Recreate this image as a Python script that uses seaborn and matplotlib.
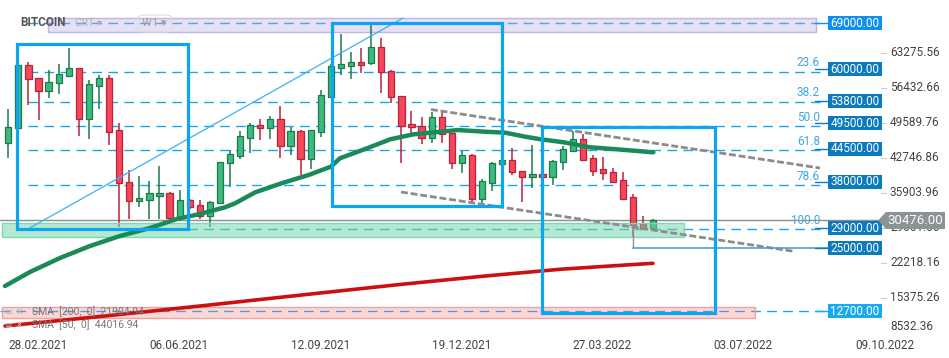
import numpy as np
import matplotlib
matplotlib.use("Agg")
import matplotlib.pyplot as plt
import matplotlib.patches as mpatches
import matplotlib.transforms as mtransforms
import seaborn as sns

# weekly candles, first candle = week of 28.02.2021
OPEN = [45680, 48500, 60870, 58270, 55850, 57290, 58780, 60230, 50260, 56820,
        58270, 48160, 37940, 34340, 34540, 35320, 35850, 30960, 34480, 33500,
        31410, 33830, 41650, 43140, 46660, 49080, 48610, 50260, 45090, 47970,
        42430, 47830, 54670, 60340, 60730, 61400, 61200, 64330, 59700, 54810,
        49340, 48950, 46540, 50650, 47520, 41650, 43220, 34610, 37860, 41460,
        42240, 40090, 38920, 39500, 38920, 41850, 44120, 46340, 42630, 40540,
        39950, 38390, 35010, 29730, 29060]
HIGH = [52270, 61070, 61400, 58330, 59890, 61070, 64140, 60280, 57940, 58920,
        58920, 49470, 40340, 39170, 38190, 41120, 36000, 36430, 34670, 34480,
        34280, 41910, 44250, 47970, 49590, 50260, 50900, 52860, 48810, 48160,
        48160, 55980, 61070, 66930, 63470, 64140, 69000, 66090, 59890, 54810,
        51880, 50760, 51740, 51940, 47580, 44120, 43410, 38640, 41970, 42400,
        44590, 40090, 45230, 39560, 42300, 45040, 48030, 47380, 43280, 42830,
        40680, 39890, 35650, 31350, 30760]
LOW = [42750, 48360, 53050, 50120, 54480, 55260, 58600, 46990, 46460, 52270,
       45230, 29260, 30760, 33170, 30760, 30760, 30430, 30430, 32720, 30820,
       29260, 33700, 37080, 42490, 43730, 46210, 46400, 42750, 43280, 39370,
       40540, 46850, 54420, 58920, 58080, 59370, 60800, 55460, 53500, 41770,
       47320, 45370, 45560, 45680, 40480, 39700, 34090, 33830, 36300, 41320,
       39370, 34090, 36880, 38780, 37410, 40340, 44000, 42100, 39170, 38390,
       37740, 34600, 27050, 28610, 29000]
CLOSE = [48690, 60870, 58080, 55850, 57490, 59110, 60230, 50260, 57160, 58270,
         47830, 37740, 34340, 34870, 35850, 35850, 30960, 34480, 33170, 31410,
         34030, 41850, 43410, 46930, 49080, 48610, 50260, 45090, 47970, 42430,
         48160, 55010, 60680, 61010, 61400, 60930, 64330, 59440, 54560, 49000,
         48690, 46540, 50650, 47320, 41650, 43220, 34730, 38130, 41650, 42240,
         39890, 38920, 39500, 38920, 42100, 44390, 46340, 42300, 40210, 39700,
         38060, 34730, 29590, 29060, 30476]

# moving averages (week index, price)
SMA50_WEEK = [-0.33, 2.15, 5.13, 8.1, 11.08, 14.06, 16.7, 19.0, 21.5, 22.5, 24.5,
              27.1, 29.8, 32.0, 32.9, 35.6, 37.9, 40.2, 42.3, 44.6, 47.3, 49.3,
              51.3, 52.8, 55.1, 57.7, 60.0, 64.0]
SMA50_VAL = [17660, 20400, 23140, 25480, 27440, 29000, 30760, 31740, 33050, 33830,
             35980, 37740, 39370, 40990, 42630, 44590, 46350, 47320, 47710, 48160,
             47830, 47640, 46850, 46350, 45760, 44780, 44450, 43800]
SMA200_WEEK = [-0.33, 9.1, 19.02, 30.92, 38.86, 46.8, 54.73, 59.69, 63.96]
SMA200_VAL = [9840, 11700, 13750, 16290, 17960, 19520, 20930, 21570, 22100]
SMA_LEGEND = ["SMA  [200,  0]  21904.94", "SMA  [50,  0]  44016.94"]

DATE_LABELS = ["28.02.2021", "06.06.2021", "12.09.2021", "19.12.2021",
               "27.03.2022", "03.07.2022", "09.10.2022"]
PRICE_TICKS = [63275.56, 56432.66, 49589.76, 42746.86, 35903.96, 29061.06,
               22218.16, 15375.26, 8532.36]
LEVEL_TAGS = [69000, 60000, 53800, 49500, 44500, 38000, 29000, 25000, 12700]
FIB_RATIOS = [0, 23.6, 38.2, 50.0, 61.8, 78.6, 100.0]
FIB_HIGH, FIB_LOW = 69000, 28800
FIB_WEEKS = [1.95, 80.53]
LAST_PRICE = 30476

# user drawings: (week, price)
BOXES = [[(0.86, 28800), (17.83, 64980)],
         [(32.11, 33300), (48.98, 69080)],
         [(52.95, 12440), (70.11, 48750)]]
TREND_LINE = [(1.95, 28800), (39.16, 70060)]
CHANNEL_TOP = [(41.93, 52170), (80.53, 40730)]
CHANNEL_BOTTOM = [(38.96, 36040), (78.05, 24410)]
ZONE_ATH = [(3.94, 67380), (80.1, 70000)]
ZONE_SUPPORT = [(-0.62, 27300), (67.03, 29920)]
ZONE_LOW = [(-0.62, 11350), (74.08, 13500)]
LINE_25000 = [(62.0, 29590), (62.0, 25000), (81.3, 25000)]

W, H = 949, 358
X0, X1 = -0.823, 93.33
Y0, Y1 = 8474, 73579
PX_PRICE = (Y1 - Y0) / 333.0

sns.set_style("white")
plt.rcParams["font.family"] = ["Roboto", "DejaVu Sans"]

fig = plt.figure(figsize=(W / 100, H / 100), dpi=100)
ax = fig.add_axes([0, 25 / H, 1, 333 / H])
ax.set_xlim(X0, X1)
ax.set_ylim(Y0, Y1)
for s in ax.spines.values():
    s.set_visible(False)
ax.set_yticks([])

blue = "#0ba6ef"
fib_blue = "#1aa6ec"

# fibonacci levels
for r in FIB_RATIOS:
    p = FIB_HIGH - r / 100 * (FIB_HIGH - FIB_LOW)
    ax.plot(FIB_WEEKS, [p, p], color=fib_blue, lw=1, dashes=(7, 4.5), zorder=1)
    if r > 0:
        ax.text(FIB_WEEKS[1], p + 9 * PX_PRICE, f"{r:.1f}", color="#3aa8e8",
                fontsize=8.5, ha="right", va="center", zorder=2)
ax.plot([X0, 81.3], [LEVEL_TAGS[-1]] * 2, color=fib_blue, lw=1, dashes=(7, 4.5), zorder=1)

# zones
for (a, b), fc, ec, al in [(ZONE_ATH, "#b8a8e0", "#c0b4e0", 0.35),
                           (ZONE_LOW, "#f08080", "#f0a0a0", 0.3)]:
    ax.add_patch(mpatches.Rectangle(a, b[0] - a[0], b[1] - a[1], fc=fc, alpha=al,
                                    ec="none", zorder=2))
    ax.add_patch(mpatches.Rectangle(a, b[0] - a[0], b[1] - a[1], fill=False,
                                    ec=ec, lw=1, zorder=2))

# current price line
ax.axhline(LAST_PRICE, xmin=0, xmax=878 / W, color="#8e8e8e", lw=1, zorder=2)

# candles
x = np.arange(len(OPEN))
o, h, l, c = map(np.array, (OPEN, HIGH, LOW, CLOSE))
up = c >= o
body_col = np.where(up, "#3dba7e", "#f5475a")
edge_col = np.where(up, "#1d7a4c", "#b8223a")
ax.vlines(x, l, h, colors=edge_col, lw=1.1, zorder=3)
ax.bar(x, np.maximum(np.abs(c - o), 250), bottom=np.minimum(o, c), width=0.62,
       color=body_col, edgecolor=edge_col, linewidth=0.9, zorder=4)

# support zone drawn over candles
a, b = ZONE_SUPPORT
ax.add_patch(mpatches.Rectangle(a, b[0] - a[0], b[1] - a[1], fc="#6fd4a9", alpha=0.5,
                                ec="none", zorder=5))
ax.add_patch(mpatches.Rectangle(a, b[0] - a[0], b[1] - a[1], fill=False,
                                ec="#7fd8b0", lw=1, zorder=5))

# moving averages
sns.lineplot(x=SMA200_WEEK, y=SMA200_VAL, ax=ax, color="#cc1010", lw=2.6, zorder=6,
             sort=False, estimator=None)
sns.lineplot(x=SMA50_WEEK, y=SMA50_VAL, ax=ax, color="#1a8a58", lw=3.2, zorder=6,
             sort=False, estimator=None)

# drawings
for (a, b) in BOXES:
    ax.add_patch(mpatches.Rectangle(a, b[0] - a[0], b[1] - a[1], fill=False,
                                    ec=blue, lw=2.3, zorder=7))
ax.plot(*zip(*TREND_LINE), color="#3bb0f5", lw=0.9, zorder=6)
for ln in (CHANNEL_TOP, CHANNEL_BOTTOM):
    ax.plot(*zip(*ln), color="#8c8c8c", lw=2, dashes=(2.5, 1), zorder=6)
ax.plot(*zip(*LINE_25000[:2]), color="#8e8e8e", lw=1, zorder=6)
ax.plot(*zip(*LINE_25000[1:]), color="#4a9fd6", lw=1.2, zorder=6)

# right side price tags
bt = mtransforms.blended_transform_factory(ax.transAxes, ax.transData)
for p in LEVEL_TAGS:
    if p == 69000:
        fc = "#0f90f0"
    elif p == 12700:
        fc = "#17aaee"
    else:
        fc = "#0b7bbd"
    ax.plot([815 / W, 828 / W], [p, p], color=fc, lw=1, transform=bt, clip_on=False, zorder=8)
    ax.add_patch(mpatches.Rectangle((828 / W, p - 7 * PX_PRICE), 54 / W, 14 * PX_PRICE,
                                    fc=fc, ec="none", transform=bt, clip_on=False, zorder=9))
    ax.text(855 / W, p, f"{p:.2f}", color="white", fontsize=8.5, ha="center",
            va="center", transform=bt, zorder=10)

# price scale
for i, p in enumerate(PRICE_TICKS):
    yy = p if i < len(PRICE_TICKS) - 1 else p + 6.5 * PX_PRICE
    if i < len(PRICE_TICKS) - 1:
        ax.plot([881 / W, 886 / W], [p, p], color="#cccccc", lw=0.8, transform=bt,
                clip_on=False, zorder=8)
    ax.text(890 / W, yy, f"{p:.2f}", color="#444444", fontsize=8.5, ha="left",
            va="center", transform=bt, zorder=8)

# last price tag
hp = 8.5 * PX_PRICE
ax.add_patch(mpatches.Polygon([(878 / W, LAST_PRICE), (886 / W, LAST_PRICE + hp),
                               (945 / W, LAST_PRICE + hp), (945 / W, LAST_PRICE - hp),
                               (886 / W, LAST_PRICE - hp)], closed=True, fc="#8a9396",
                              ec="none", transform=bt, clip_on=False, zorder=11))
ax.text(915 / W, LAST_PRICE, f"{LAST_PRICE:.2f}", color="white", fontsize=9.5,
        ha="center", va="center", transform=bt, zorder=12)

# date axis
ax.set_xticks(np.arange(0, 14 * len(DATE_LABELS), 14))
ax.set_xticklabels(DATE_LABELS, ha="left")
ax.tick_params(axis="x", length=3, width=0.8, color="#cccccc", labelsize=8.5,
               labelcolor="#444444", pad=1, direction="out")

# header and legend
fig.text(20 / W, 1 - 22 / H, "BITCOIN", fontsize=8.5, fontweight="bold", color="#555555",
         va="center", ha="left")
fig.text(75 / W, 1 - 23 / H, "CRT ▾", fontsize=7.5, color="#b0b0b0", va="center", ha="left")
fig.patches.append(mpatches.FancyBboxPatch((138 / W, 1 - 32 / H), 34 / W, 17 / H,
                                           boxstyle="round,pad=0,rounding_size=0.008",
                                           fc="none", ec="#dddddd", lw=0.8,
                                           transform=fig.transFigure))
fig.text(142 / W, 1 - 23.5 / H, "W1 ▾", fontsize=8, color="#a0a0a0", va="center", ha="left")
for j, t in enumerate(SMA_LEGEND):
    yy = 1 - (312 + 13 * j) / H
    fig.text(5 / W, yy, "≡ ✕", fontsize=7, color="#b8b8b8", va="center", ha="left")
    fig.text(32 / W, yy, t, fontsize=7.5, color="#777777", va="center", ha="left")

fig.savefig("out.png", dpi=100)
